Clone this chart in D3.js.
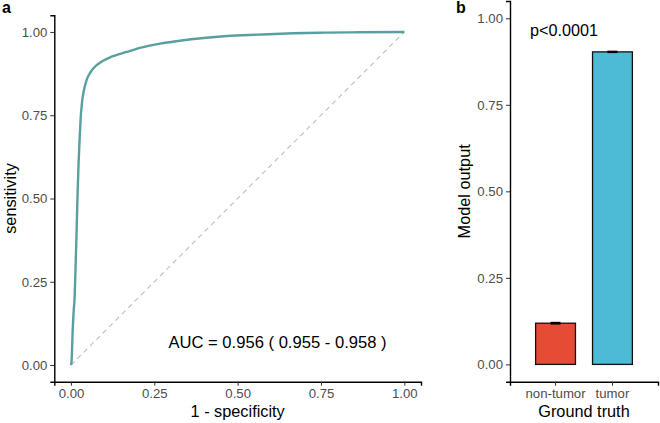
<!DOCTYPE html>
<html>
<head>
<meta charset="utf-8">
<script src="https://cdn.jsdelivr.net/npm/d3@7"></script>
<style>
body{margin:0;background:#fff;}
svg text{font-family:"Liberation Sans",Arial,sans-serif;}
</style>
</head>
<body>
<svg id="chart" width="660" height="423"></svg>
<script>
// ROC curve
var fpr=[0,0.002,0.005,0.008,0.011,0.014,0.017,0.020,0.023,0.026,0.029,0.033,0.039,0.047,0.056,0.065,0.078,0.092,0.120,0.167,0.210,0.267,0.300,0.360,0.468,0.560,0.667,0.760,0.868,1.0];
var tpr=[0,0.015,0.10,0.16,0.204,0.30,0.405,0.52,0.61,0.68,0.74,0.787,0.826,0.856,0.875,0.888,0.901,0.911,0.925,0.940,0.953,0.965,0.970,0.978,0.988,0.992,0.996,0.998,0.999,1.0];
var rocTicks=[0,0.25,0.5,0.75,1];
var aucLabel="AUC = 0.956 ( 0.955 - 0.958 )";

// panel b bars
var groups=["non-tumor","tumor"];
var means=[0.119,0.903];
var errs=[0.002,0.0015];
var barColors=["#E64B35","#4DBBD5"];
var pLabel="p<0.0001";

var svg=d3.select("#chart");
var tickColor="#4D4D4D";

function styleAxis(g){
	g.select(".domain").attr("stroke","#000").attr("stroke-width",1.4);
	g.selectAll(".tick line").attr("stroke","#333").attr("stroke-width",1);
	g.selectAll(".tick text").attr("fill",tickColor).style("font-size","13.2px");
}

//panel a
var xa=d3.scaleLinear().domain([-0.05,1.05]).range([54.3,421]);
var ya=d3.scaleLinear().domain([-0.05,1.05]).range([381.7,15.3]);
var ga=svg.append("g");

ga.append("line")
	.attr("x1",xa(0)).attr("y1",ya(0)).attr("x2",xa(1)).attr("y2",ya(1))
	.attr("stroke","#BEBEBE").attr("stroke-width",1.1).attr("stroke-dasharray","5,4");

var pts=fpr.map(function(d,i){return [d,tpr[i]];});
ga.append("path").datum(pts)
	.attr("d",d3.line().x(function(d){return xa(d[0]);}).y(function(d){return ya(d[1]);}).curve(d3.curveMonotoneX))
	.attr("fill","none").attr("stroke","#5A9FA0").attr("stroke-width",2.4);

ga.append("g").attr("transform","translate(0,"+ya(-0.05)+")")
	.call(d3.axisBottom(xa).tickValues(rocTicks).tickFormat(d3.format(".2f")).tickSizeOuter(0).tickSize(4).tickPadding(3))
	.call(styleAxis);
ga.append("g").attr("transform","translate("+xa(-0.05)+",0)")
	.call(d3.axisLeft(ya).tickValues(rocTicks).tickFormat(d3.format(".2f")).tickSizeOuter(0).tickSize(4).tickPadding(3))
	.call(styleAxis);

ga.append("text").attr("x",277.5).attr("y",348)
	.attr("text-anchor","middle").style("font-size","16.6px").text(aucLabel);
ga.append("text").attr("x",(xa(-0.05)+xa(1.05))/2).attr("y",417)
	.attr("text-anchor","middle").style("font-size","16.3px").text("1 - specificity");
ga.append("text").attr("transform","translate(16,"+ya(0.5)+") rotate(-90)")
	.attr("text-anchor","middle").style("font-size","16.3px").text("sensitivity");
ga.append("text").attr("x",2).attr("y",13).style("font-size","16px").style("font-weight","bold").text("a");

//panel b
var xb=d3.scaleBand().domain(groups).range([510,658]).paddingInner(0.3).paddingOuter(0.6-0.15);
var yb=d3.scaleLinear().domain([-0.05,1.05]).range([381.7,1]);
var gb=svg.append("g");

gb.selectAll("rect.bar").data(groups).enter().append("rect")
	.attr("x",function(d){return xb(d);})
	.attr("width",xb.bandwidth())
	.attr("y",function(d,i){return yb(means[i]);})
	.attr("height",function(d,i){return yb(0)-yb(means[i]);})
	.attr("fill",function(d,i){return barColors[i];})
	.attr("stroke","#111").attr("stroke-width",1.3);

gb.selectAll("g.err").data(groups).enter().append("g").each(function(d,i){
	var cx=xb(d)+xb.bandwidth()/2,w=5;
	var g=d3.select(this);
	g.append("line").attr("x1",cx-w).attr("x2",cx+w).attr("y1",yb(means[i]+errs[i])).attr("y2",yb(means[i]+errs[i])).attr("stroke","#000").attr("stroke-width",1.4);
	g.append("line").attr("x1",cx-w).attr("x2",cx+w).attr("y1",yb(means[i]-errs[i])).attr("y2",yb(means[i]-errs[i])).attr("stroke","#000").attr("stroke-width",1.4);
	g.append("line").attr("x1",cx).attr("x2",cx).attr("y1",yb(means[i]+errs[i])).attr("y2",yb(means[i]-errs[i])).attr("stroke","#000").attr("stroke-width",1.4);
});

gb.append("g").attr("transform","translate(0,"+yb(-0.05)+")")
	.call(d3.axisBottom(xb).tickSizeOuter(0).tickSize(4).tickPadding(3))
	.call(styleAxis);
gb.append("g").attr("transform","translate(510,0)")
	.call(d3.axisLeft(yb).tickValues(rocTicks).tickFormat(d3.format(".2f")).tickSizeOuter(0).tickSize(4).tickPadding(3))
	.call(styleAxis);

gb.append("text").attr("x",530).attr("y",36).style("font-size","16.2px").text(pLabel);
gb.append("text").attr("x",584).attr("y",417)
	.attr("text-anchor","middle").style("font-size","16.3px").text("Ground truth");
gb.append("text").attr("transform","translate(470,"+yb(0.5)+") rotate(-90)")
	.attr("text-anchor","middle").style("font-size","16.3px").text("Model output");
gb.append("text").attr("x",456).attr("y",13).style("font-size","16px").style("font-weight","bold").text("b");
</script>
</body>
</html>
